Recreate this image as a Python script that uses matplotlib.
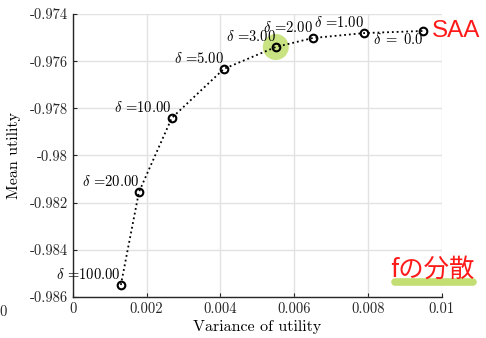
import numpy as np
import matplotlib
matplotlib.use("Agg")
import matplotlib.pyplot as plt
from matplotlib.lines import Line2D

# Valores de delta y resultados (varianza, utilidad media)
deltas = ["100.00", "20.00", "10.00", "5.00", "3.00", "2.00", "1.00", "0.0"]
varianza = [0.00130, 0.00179, 0.00268, 0.00409, 0.00550, 0.00650, 0.00789, 0.00949]
utilidad = [-0.98549, -0.98155, -0.97841, -0.97633, -0.97540, -0.97502, -0.97481, -0.97472]

xticks = [0, 0.002, 0.004, 0.006, 0.008, 0.01]
xlabels = ["0", "0.002", "0.004", "0.006", "0.008", "0.01"]
yticks = [-0.986, -0.984, -0.982, -0.98, -0.978, -0.976, -0.974]
ylabels = ["-0.986", "-0.984", "-0.982", "-0.98", "-0.978", "-0.976", "-0.974"]

plt.rcParams['font.family'] = 'serif'
plt.rcParams['font.serif'] = ['cmr10']
plt.rcParams['mathtext.fontset'] = 'cm'

fig = plt.figure(figsize=(4.86, 3.38), dpi=100)
ax = fig.add_axes([0.150, 0.1213, 0.759, 0.8373])

# Resaltado del punto delta = 3
ax.scatter([varianza[4]], [utilidad[4]], s=350, color='#c3df74', alpha=0.9,
           edgecolors='none', zorder=1)

ax.plot(varianza, utilidad, linestyle=':', color='black', linewidth=1.3,
        marker='o', markersize=5.5, markerfacecolor='none',
        markeredgewidth=1.5, zorder=3)

for i in range(len(deltas)):
    if deltas[i] == "0.0":
        ax.annotate(r"$\delta\;=\;0.0$", (varianza[i], utilidad[i]),
                    xytext=(0, -1), textcoords='offset points',
                    ha='right', va='top', fontsize=10.5, zorder=4)
    else:
        ax.annotate(r"$\delta$ =" + deltas[i], (varianza[i], utilidad[i]),
                    xytext=(0, 2), textcoords='offset points',
                    ha='right', va='bottom', fontsize=10.5, zorder=4)

ax.set_xlim(0, 0.01)
ax.set_ylim(-0.986, -0.974)
ax.set_xticks(xticks)
ax.set_xticklabels(xlabels)
ax.set_yticks(yticks)
ax.set_yticklabels(ylabels)
ax.tick_params(direction='in', length=3, width=0.8, labelsize=10.5,
               colors='#262626', labelcolor='#262626')
ax.grid(True, color='#e2e2e2', linewidth=1.0)
ax.set_axisbelow(True)
for lado in ['top', 'right']:
    ax.spines[lado].set_visible(False)
for lado in ['left', 'bottom']:
    ax.spines[lado].set_color('#262626')
    ax.spines[lado].set_linewidth(1.0)

ax.set_xlabel("Variance of utility", fontsize=11.5, labelpad=3)
ax.set_ylabel("Mean utility", fontsize=11.5, labelpad=6)

# Anotaciones en rojo
fig.text(432 / 486, 1 - 31 / 338, "SAA", color='#ff1a1a', fontsize=17.5,
         family=['Liberation Sans', 'DejaVu Sans'], ha='left', va='center')
fig.add_artist(Line2D([395 / 486, 473 / 486], [1 - 282 / 338, 1 - 282 / 338],
                      color='#c3df74', linewidth=5.5, solid_capstyle='round',
                      transform=fig.transFigure, zorder=1))
fig.text(390 / 486, 1 - 270 / 338, "fの分散", color='#ff1a1a', fontsize=18.3,
         family=['Noto Sans CJK JP', 'DejaVu Sans'], ha='left', va='center',
         zorder=2)

fig.text(3 / 486, 1 - 312 / 338, "0", fontsize=10.5, color='#262626',
         ha='center', va='center')

fig.savefig("out.png", dpi=100)
